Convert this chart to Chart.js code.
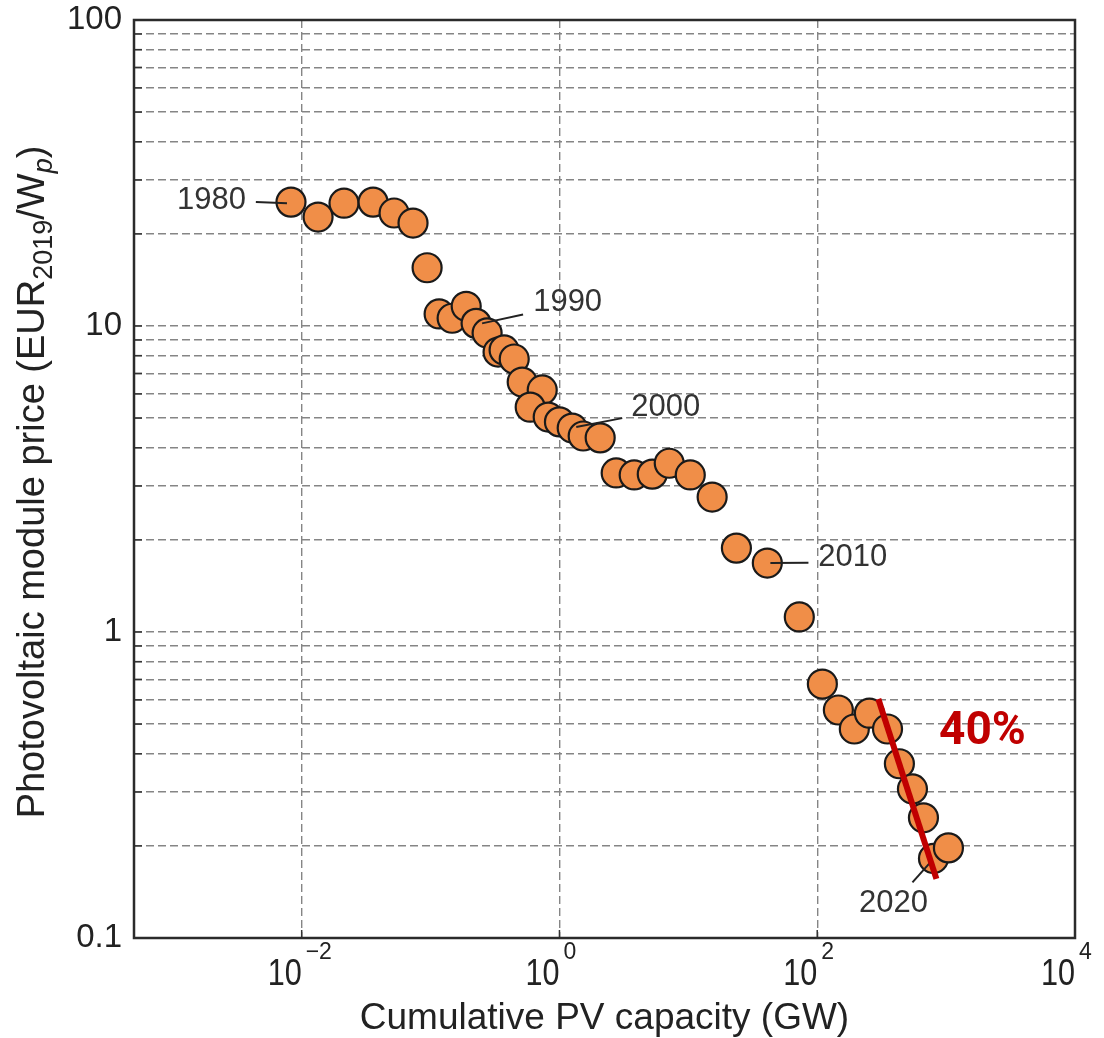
<!DOCTYPE html>
<html>
<head>
<meta charset="utf-8">
<script src="https://cdn.jsdelivr.net/npm/chart.js@4.4.1/dist/chart.umd.min.js"></script>
<style>
  body { margin: 0; background: #fff; }
</style>
</head>
<body>
<canvas id="myChart" width="1104" height="1038"></canvas>
<script>
// cumulative capacity (GW) and module price (EUR2019/Wp)
const capacityGW = [
  0.00826, 0.0134, 0.0213, 0.0358, 0.0521, 0.0731, 0.094, 0.1165, 0.147, 0.189,
  0.2256, 0.2746, 0.334, 0.372, 0.4457, 0.514, 0.735, 0.593, 0.818, 1.0,
  1.256, 1.528, 2.07, 2.755, 3.80, 5.25, 7.11, 10.35, 15.3, 23.6,
  41.0, 72.6, 109.6, 145.9, 194, 254, 351, 434, 548, 667,
  798, 1042
];
const priceEUR = [
  25.4, 22.7, 25.2, 25.4, 23.4, 21.7, 15.5, 10.95, 10.6, 11.6,
  10.2, 9.49, 8.22, 8.35, 7.80, 6.56, 6.18, 5.43, 5.04, 4.86,
  4.64, 4.37, 4.31, 3.31, 3.26, 3.28, 3.56, 3.26, 2.76, 1.88,
  1.68, 1.12, 0.676, 0.556, 0.482, 0.543, 0.482, 0.371, 0.307, 0.247,
  0.182, 0.197
];

// learning-rate fit line
const trendX = [298, 841];
const trendY = [0.604, 0.156];
const trendLabel = '40%';
const trendLabelPos = [1914, 0.468];

// year annotations
const yearLabels = ['1980', '1990', '2000', '2010', '2020'];
const leaderFrom = [[0.00441, 25.4], [0.251, 10.2], [1.35, 4.68], [43.3, 1.68], [548, 0.152]];
const leaderTo = [[0.00769, 25.2], [0.522, 10.9], [3.07, 5.0], [85.5, 1.685], [757, 0.177]];
const yearTextPos = [[0.00369, 25.8], [0.625, 11.9], [3.6, 5.43], [102, 1.746], [391, 0.130]];
const yearTextAlign = ['right', 'left', 'left', 'left', 'center'];

// axes
const xTickValues = [1e-2, 1e0, 1e2, 1e4];
const xTickExp = ['\u22122', '0', '2', '4'];
const yTickValues = [];
[0.1, 1, 10].forEach(d => { for (let k = 1; k < 10; k++) yTickValues.push(+(k * d).toPrecision(2)); });
yTickValues.push(100);
const yMajor = [0.1, 1, 10, 100];

const FONT = "'Liberation Sans', Arial, sans-serif";

const leaderSets = yearLabels.map((lab, i) => ({
  type: 'line',
  label: lab,
  data: [{ x: leaderFrom[i][0], y: leaderFrom[i][1] }, { x: leaderTo[i][0], y: leaderTo[i][1] }],
  borderColor: '#222',
  borderWidth: 2,
  pointRadius: 0,
  order: 1,
}));

const decorations = {
  id: 'decorations',
  afterDatasetsDraw(chart) {
    const { ctx, scales: { x, y } } = chart;
    ctx.save();
    ctx.fillStyle = '#333';
    ctx.font = '31px ' + FONT;
    ctx.textBaseline = 'middle';
    yearLabels.forEach((lab, i) => {
      ctx.textAlign = yearTextAlign[i];
      ctx.fillText(lab, x.getPixelForValue(yearTextPos[i][0]), y.getPixelForValue(yearTextPos[i][1]));
    });
    ctx.fillStyle = '#C00000';
    ctx.font = "bold 46px Roboto, 'DejaVu Sans', sans-serif";
    ctx.textAlign = 'center';
    ctx.fillText(trendLabel, x.getPixelForValue(trendLabelPos[0]), y.getPixelForValue(trendLabelPos[1]));
    ctx.restore();
  },
  afterDraw(chart) {
    const { ctx, chartArea: a, scales: { x, y } } = chart;
    ctx.save();
    // inward tick marks
    ctx.strokeStyle = '#333';
    ctx.lineWidth = 1.5;
    yTickValues.forEach(v => {
      const py = y.getPixelForValue(v);
      ctx.beginPath(); ctx.moveTo(a.left, py); ctx.lineTo(a.left + 8, py); ctx.stroke();
    });
    xTickValues.forEach(v => {
      const px = x.getPixelForValue(v);
      ctx.beginPath(); ctx.moveTo(px, a.bottom); ctx.lineTo(px, a.bottom - 8); ctx.stroke();
    });
    // frame
    ctx.strokeStyle = '#2b2b2b';
    ctx.lineWidth = 2.5;
    ctx.strokeRect(a.left, a.top, a.right - a.left, a.bottom - a.top);

    // x tick labels with exponents
    ctx.fillStyle = '#222';
    ctx.textBaseline = 'alphabetic';
    xTickValues.forEach((v, i) => {
      const px = x.getPixelForValue(v);
      ctx.save();
      ctx.translate(px, a.bottom + 47);
      ctx.scale(0.85, 1);
      ctx.font = '36px ' + FONT;
      ctx.textAlign = 'right';
      ctx.fillText('10', 0, 0);
      ctx.restore();
      ctx.font = '23px ' + FONT;
      ctx.textAlign = 'left';
      ctx.fillText(xTickExp[i], px + 4, a.bottom + 21);
    });

    // x title
    ctx.font = '37px ' + FONT;
    ctx.textAlign = 'center';
    ctx.fillText('Cumulative PV capacity (GW)', (a.left + a.right) / 2, 1029);

    // y title with subscripts
    const parts = [
      ['Photovoltaic module price (EUR', '38px ' + FONT, 0],
      ['2019', '27px ' + FONT, 8],
      ['/W', '38px ' + FONT, 0],
      ['p', 'italic 27px ' + FONT, 8],
      [')', '38px ' + FONT, 0],
    ];
    let total = 0;
    parts.forEach(p => { ctx.font = p[1]; total += ctx.measureText(p[0]).width; });
    ctx.translate(44, 482);
    ctx.rotate(-Math.PI / 2);
    ctx.textAlign = 'left';
    let cx = -total / 2;
    parts.forEach(p => {
      ctx.font = p[1];
      ctx.fillText(p[0], cx, p[2]);
      cx += ctx.measureText(p[0]).width;
    });
    ctx.restore();
  }
};

const ctx = document.getElementById('myChart');

const myChart = new Chart(ctx, {
  type: 'scatter',
  plugins: [decorations],
  data: {
    datasets: [
      {
        type: 'line',
        label: 'fit',
        data: trendX.map((v, i) => ({ x: v, y: trendY[i] })),
        borderColor: '#C00000',
        borderWidth: 6,
        pointRadius: 0,
        order: 0,
      },
      ...leaderSets,
      {
        label: 'price',
        data: capacityGW.map((v, i) => ({ x: v, y: priceEUR[i] })),
        backgroundColor: '#F08E48',
        borderColor: '#1a1a1a',
        borderWidth: 2.2,
        pointRadius: 14.5,
        pointHoverRadius: 14.5,
        order: 2,
      },
    ],
  },
  options: {
    responsive: false,
    animation: false,
    layout: { padding: { top: 20, right: 29, left: 0, bottom: 0 } },
    plugins: {
      legend: { display: false },
      tooltip: { enabled: false },
    },
    scales: {
      x: {
        type: 'logarithmic',
        min: 5e-4,
        max: 1e4,
        afterBuildTicks: (scale) => { scale.ticks = xTickValues.map(v => ({ value: v })); },
        afterFit: (scale) => { scale.height = 100; scale.paddingLeft = 0; scale.paddingRight = 0; },
        ticks: { display: false },
        grid: { color: '#858585', lineWidth: 1.4, drawTicks: false },
        border: { display: false, dash: [8, 4] },
      },
      y: {
        type: 'logarithmic',
        min: 0.1,
        max: 100,
        afterBuildTicks: (scale) => { scale.ticks = yTickValues.map(v => ({ value: v })); },
        afterFit: (scale) => { scale.width = 134; scale.paddingTop = 0; scale.paddingBottom = 0; },
        ticks: {
          autoSkip: false,
          padding: 12,
          color: '#222',
          font: { family: FONT, size: 33 },
          callback: (v) => yMajor.includes(v) ? String(v) : '',
        },
        grid: { color: '#858585', lineWidth: 1.4, drawTicks: false },
        border: { display: false, dash: [8, 4] },
      },
    },
  },
});
</script>
</body>
</html>
